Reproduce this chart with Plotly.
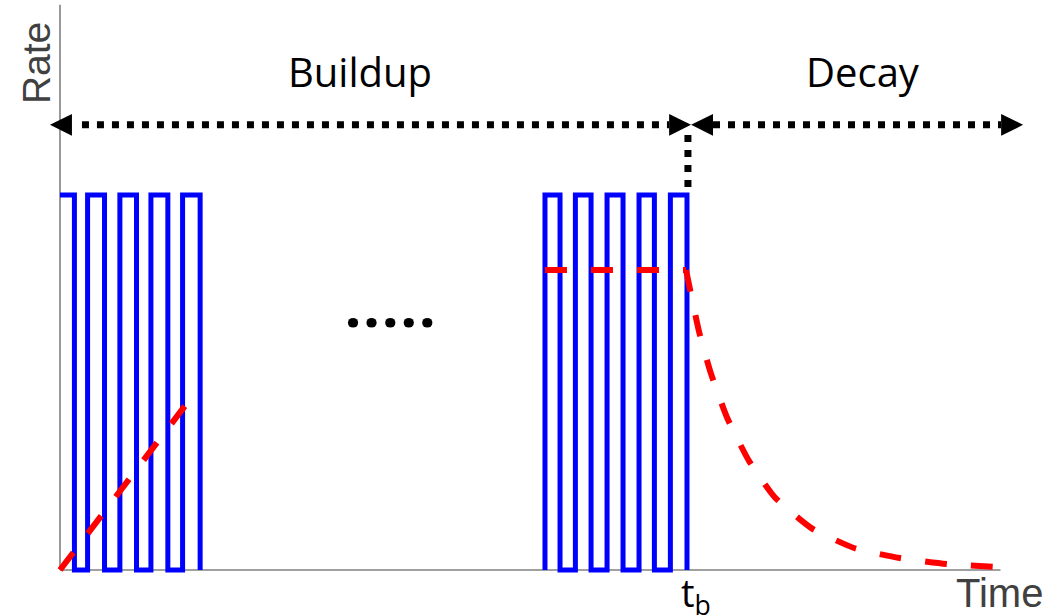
import plotly.graph_objects as go

# ---------------- data (time in arbitrary units, rate normalised to pulse height) ----------------
early_edges = [0.46, 0.88, 1.42, 1.91, 2.44, 2.90, 3.44, 3.91, 4.47]          # switching times, start high at t=0
late_edges = [15.47, 15.95, 16.44, 16.94, 17.45, 17.96, 18.47, 18.96, 19.47, 20.0]  # start low
pulse_high = 1.0

rise_t = [0.0, 4.08]
rise_rate = [0.0, 0.448]

plateau_t = [15.47, 19.97]
plateau_rate = [0.80, 0.80]

decay_t = [19.97, 20.38, 20.76, 21.27, 21.97, 22.80, 23.98, 25.35, 26.78, 28.28, 29.94]
decay_rate = [0.80, 0.637, 0.525, 0.408, 0.292, 0.194, 0.111, 0.058, 0.032, 0.016, 0.008]

t_b = 20.0
t_end = 30.0
rate_axis_top = 1.507

arrow_level = 1.187
buildup_span = [-0.32, 20.13]
decay_span = [20.13, 30.72]
tb_marker_span = [1.021, 1.16]

labels = ["Buildup", "Decay", "Rate", "Time", "t<sub>b</sub>", "....."]

# ---------------- styling ----------------
BLUE = "#0000ff"
RED = "#ff0000"
AXIS = "#808080"
HEAD_LEN = 0.70     # time units
HEAD_HALF = 0.0293  # rate units


def square_wave(edges, start_level, start_t):
    xs, ys = [start_t], [start_level * pulse_high]
    level = start_level
    for e in edges:
        xs += [e, e]
        ys += [level * pulse_high, (1 - level) * pulse_high]
        level = 1 - level
    return xs, ys


fig = go.Figure()

# axes (drawn as lines)
fig.add_trace(go.Scatter(x=[0, t_end], y=[0, 0], mode="lines",
                         line=dict(color=AXIS, width=1.6), hoverinfo="skip"))
fig.add_trace(go.Scatter(x=[0, 0], y=[0, rate_axis_top], mode="lines",
                         line=dict(color=AXIS, width=1.6), hoverinfo="skip"))

# pulse trains
ex, ey = square_wave(early_edges, 1, 0.0)
lx, ly = square_wave(late_edges[1:], 1, late_edges[0])
lx = [late_edges[0]] + lx
ly = [0.0] + ly
for xs, ys in [(ex, ey), (lx, ly)]:
    fig.add_trace(go.Scatter(x=xs, y=ys, mode="lines",
                             line=dict(color=BLUE, width=5), hoverinfo="skip"))

# red dashed average rate
RDASH = dict(color=RED, width=6, dash="22px,24px")
fig.add_trace(go.Scatter(x=rise_t, y=rise_rate, mode="lines", line=RDASH))
fig.add_trace(go.Scatter(x=plateau_t, y=plateau_rate, mode="lines", line=RDASH))
fig.add_trace(go.Scatter(x=decay_t, y=decay_rate, mode="lines",
                         line=dict(RDASH, shape="spline", smoothing=0.5)))

# dotted double arrows
DOT = dict(color="black", width=7, dash="7px,8px")
fig.add_trace(go.Scatter(x=[buildup_span[0] + HEAD_LEN + 0.32, buildup_span[1] - HEAD_LEN],
                         y=[arrow_level, arrow_level], mode="lines", line=DOT))
fig.add_trace(go.Scatter(x=[decay_span[0] + HEAD_LEN, decay_span[1] - HEAD_LEN],
                         y=[arrow_level, arrow_level], mode="lines", line=DOT))
fig.add_trace(go.Scatter(x=[t_b + 0.03, t_b + 0.03], y=[tb_marker_span[1], tb_marker_span[0]],
                         mode="lines", line=DOT))


def head(tip, direction):
    base = tip - direction * HEAD_LEN
    return ([tip, base, base, tip],
            [arrow_level, arrow_level + HEAD_HALF, arrow_level - HEAD_HALF, arrow_level])


for tip, d in [(buildup_span[0], -1), (buildup_span[1], 1), (decay_span[0], -1), (decay_span[1], 1)]:
    hx, hy = head(tip, d)
    fig.add_trace(go.Scatter(x=hx, y=hy, mode="lines", fill="toself", fillcolor="black",
                             line=dict(color="black", width=0), hoverinfo="skip"))

# text
ann = [
    dict(text=labels[0], x=9.585, y=1.329, font=dict(family="Open Sans", size=40, color="black")),
    dict(text=labels[1], x=25.60, y=1.33, font=dict(family="Open Sans", size=40, color="black")),
    dict(text=labels[2], x=-0.75, y=1.353, textangle=-90,
         font=dict(family="Liberation Sans", size=39, color="#404040")),
    dict(text=labels[3], x=29.98, y=-0.061, font=dict(family="Liberation Sans", size=40, color="#404040")),
    dict(text=labels[4], x=20.29, y=-0.066, font=dict(family="Open Sans", size=38, color="black")),
    dict(text=labels[5], x=10.54, y=0.705, font=dict(family="Roboto", size=64, color="black", weight="bold")),
]
for a in ann:
    fig.add_annotation(xref="x", yref="y", showarrow=False, xanchor="center", yanchor="middle", **a)

fig.update_layout(
    width=1053, height=616,
    margin=dict(l=0, r=0, t=0, b=0),
    paper_bgcolor="white", plot_bgcolor="white",
    showlegend=False,
    xaxis=dict(range=[-1.914, 31.675], visible=False, fixedrange=True),
    yaxis=dict(range=[-0.1227, 1.52], visible=False, fixedrange=True),
)

fig.write_html("out.html", config={"displayModeBar": False},
               post_script="document.body.style.margin='0';document.body.style.overflow='hidden';")
